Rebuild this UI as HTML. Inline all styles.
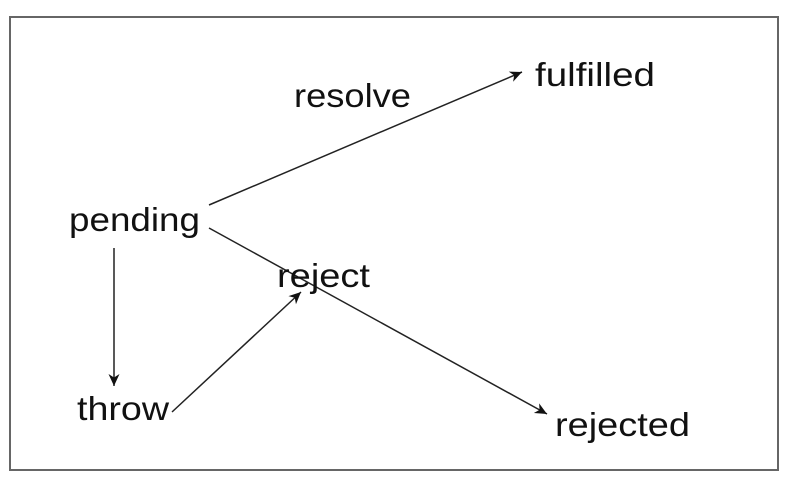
<!DOCTYPE html>
<html><head><style>html,body{margin:0;padding:0;background:#fff;}</style></head>
<body>
<svg width="788" height="486" viewBox="0 0 788 486" xmlns="http://www.w3.org/2000/svg">
<defs>
<marker id="a" viewBox="0 0 14 14" refX="13" refY="7" markerWidth="14" markerHeight="14" markerUnits="userSpaceOnUse" orient="auto">
<path d="M1,1.5 L13,7 L1,12.5 L4.5,7 Z" fill="#111"/>
</marker>
</defs>
<rect x="10" y="17" width="768" height="453" fill="#fff" stroke="#666" stroke-width="2"/>
<g stroke="#222" stroke-width="1.5" fill="none" marker-end="url(#a)">
<line x1="209" y1="205" x2="522" y2="72"/>
<line x1="209" y1="228" x2="547" y2="414"/>
<line x1="114" y1="248" x2="114" y2="386"/>
<line x1="172" y1="412" x2="301" y2="292"/>
</g>
<g font-family="Liberation Sans, sans-serif" font-size="33" fill="#111">
<text x="294" y="107" textLength="117" lengthAdjust="spacingAndGlyphs">resolve</text>
<text x="535" y="86" textLength="120" lengthAdjust="spacingAndGlyphs">fulfilled</text>
<text x="69" y="231" textLength="131" lengthAdjust="spacingAndGlyphs">pending</text>
<text x="277" y="287" textLength="93" lengthAdjust="spacingAndGlyphs">reject</text>
<text x="77" y="420" textLength="92" lengthAdjust="spacingAndGlyphs">throw</text>
<text x="555" y="436" textLength="135" lengthAdjust="spacingAndGlyphs">rejected</text>
</g>
</svg>
</body></html>
